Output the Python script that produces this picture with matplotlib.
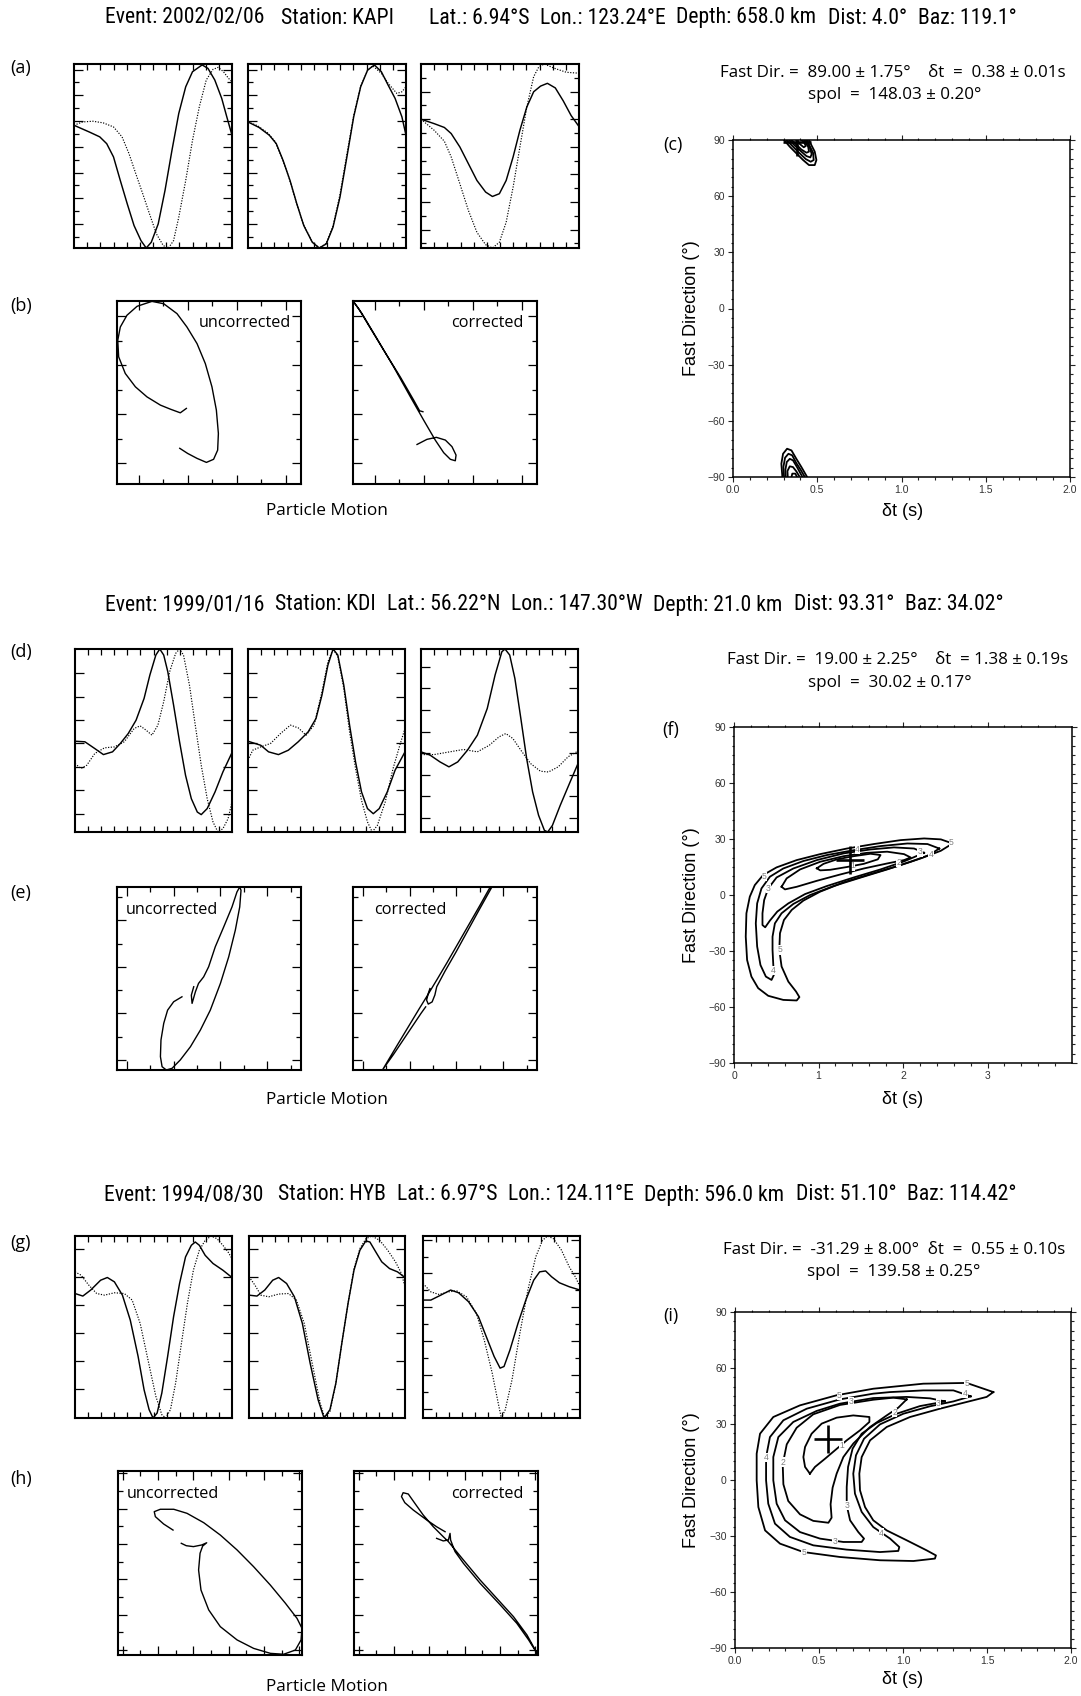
import numpy as np
import matplotlib
matplotlib.use("Agg")
import matplotlib.pyplot as plt
from matplotlib import font_manager as fm
from matplotlib.ticker import MultipleLocator, FixedLocator, FormatStrFormatter

# ---------------- DATA (normalised box coordinates) ----------------
TITLE1 = ["Event: 2002/02/06", "Station: KAPI", "Lat.: 6.94°S", "Lon.: 123.24°E",
          "Depth: 658.0 km", "Dist: 4.0°", "Baz: 119.1°"]
TITLE2 = ["Event: 1999/01/16", "Station: KDI", "Lat.: 56.22°N", "Lon.: 147.30°W",
          "Depth: 21.0 km", "Dist: 93.31°", "Baz: 34.02°"]
TITLE3 = ["Event: 1994/08/30", "Station: HYB", "Lat.: 6.97°S", "Lon.: 124.11°E",
          "Depth: 596.0 km", "Dist: 51.10°", "Baz: 114.42°"]

RESULT1 = ["Fast Dir. =  89.00 ± 1.75°    δt  =  0.38 ± 0.01s", "spol  =  148.03 ± 0.20°"]
RESULT2 = ["Fast Dir. =  19.00 ± 2.25°    δt  = 1.38 ± 0.19s", "spol  =  30.02 ± 0.17°"]
RESULT3 = ["Fast Dir. =  -31.29 ± 8.00°  δt  =  0.55 ± 0.10s", "spol  =  139.58 ± 0.25°"]

PANEL_LABELS = ["(a)", "(b)", "(c)", "(d)", "(e)", "(f)", "(g)", "(h)", "(i)"]

# best-fit (delta t, fast direction) crosses
BEST_C = (0.38, 89.0)
BEST_F = (1.373, 19.0)
BEST_I = (0.552, 22.0)

# waveforms: (time fraction, amplitude fraction)
A1_SOLID = [(0,0.667),(0.098,0.63),(0.163,0.604),(0.207,0.567),(0.25,0.495),(0.293,0.367),(0.337,0.24),
            (0.38,0.122),(0.424,0.04),(0.457,0.0),(0.489,0.031),(0.533,0.131),(0.576,0.313),(0.62,0.531),
            (0.663,0.731),(0.707,0.876),(0.75,0.958),(0.811,0.995),(0.848,0.976),(0.891,0.913),
            (0.935,0.813),(0.967,0.713),(1.0,0.613)]
A1_DOT = [(0,0.667),(0.054,0.685),(0.12,0.689),(0.185,0.68),(0.25,0.658),(0.304,0.604),(0.348,0.513),
          (0.391,0.404),(0.435,0.295),(0.478,0.185),(0.522,0.076),(0.565,0.013),(0.598,0.0),(0.63,0.04),
          (0.663,0.167),(0.707,0.367),(0.75,0.585),(0.793,0.767),(0.837,0.913),(0.88,0.971),(0.913,0.982),
          (0.946,0.958),(0.978,0.922),(1.0,0.904)]
A2_SOLID = [(0,0.685),(0.07,0.655),(0.135,0.613),(0.179,0.567),(0.222,0.476),(0.266,0.367),(0.309,0.24),
            (0.353,0.122),(0.407,0.031),(0.451,0.0),(0.495,0.022),(0.538,0.113),(0.582,0.276),(0.626,0.495),
            (0.669,0.713),(0.713,0.876),(0.757,0.967),(0.8,0.995),(0.844,0.958),(0.887,0.885),(0.931,0.813),
            (0.974,0.713),(1.0,0.613)]
A2_DOT = [(0,0.685),(0.06,0.665),(0.125,0.625),(0.17,0.58),(0.215,0.49),(0.26,0.38),(0.305,0.25),
          (0.35,0.13),(0.405,0.035),(0.451,0.0),(0.495,0.025),(0.538,0.12),(0.582,0.29),(0.626,0.51),
          (0.669,0.72),(0.713,0.88),(0.757,0.965),(0.79,0.99),(0.844,0.949),(0.887,0.895),(0.942,0.84),
          (0.974,0.849),(1.0,0.876)]
A3_SOLID = [(0,0.7),(0.083,0.676),(0.148,0.655),(0.191,0.622),(0.246,0.549),(0.3,0.458),(0.354,0.367),
            (0.409,0.304),(0.452,0.28),(0.496,0.295),(0.539,0.367),(0.583,0.495),(0.626,0.64),(0.67,0.767),
            (0.713,0.849),(0.757,0.88),(0.8,0.895),(0.85,0.87),(0.9,0.8),(0.95,0.72),(1.0,0.66)]
A3_DOT = [(0,0.7),(0.083,0.64),(0.148,0.58),(0.191,0.495),(0.246,0.349),(0.3,0.204),(0.354,0.085),
          (0.409,0.018),(0.452,0.0),(0.496,0.031),(0.539,0.14),(0.583,0.331),(0.626,0.549),(0.67,0.767),
          (0.713,0.931),(0.746,0.985),(0.78,1.0),(0.85,0.975),(0.92,0.955),(1.0,0.95)]

D1_SOLID = [(0,0.496),(0.063,0.493),(0.126,0.456),(0.181,0.423),(0.239,0.438),(0.289,0.484),(0.339,0.538),
            (0.389,0.611),(0.44,0.73),(0.477,0.858),(0.515,0.967),(0.54,1.0),(0.565,0.967),(0.591,0.876),
            (0.628,0.693),(0.666,0.493),(0.704,0.31),(0.741,0.182),(0.779,0.109),(0.804,0.095),
            (0.842,0.128),(0.892,0.219),(0.942,0.328),(1.0,0.434)]
D1_DOT = [(0,0.374),(0.038,0.347),(0.075,0.365),(0.126,0.429),(0.188,0.46),(0.251,0.465),(0.314,0.493),
          (0.377,0.566),(0.415,0.58),(0.452,0.557),(0.49,0.529),(0.528,0.584),(0.565,0.712),(0.603,0.876),
          (0.641,0.976),(0.666,1.0),(0.691,0.967),(0.729,0.803),(0.766,0.584),(0.804,0.365),(0.842,0.182),
          (0.879,0.055),(0.91,0.0),(0.942,0.018),(0.975,0.073),(1.0,0.164)]
D2_SOLID = [(0,0.496),(0.081,0.474),(0.131,0.438),(0.194,0.423),(0.257,0.447),(0.32,0.493),(0.383,0.547),
            (0.433,0.62),(0.471,0.748),(0.509,0.912),(0.542,1.0),(0.572,0.967),(0.61,0.803),(0.647,0.584),
            (0.685,0.383),(0.723,0.219),(0.761,0.128),(0.798,0.1),(0.836,0.128),(0.887,0.219),(0.937,0.338),
            (1.0,0.438)]
D2_DOT = [(0,0.392),(0.03,0.447),(0.081,0.465),(0.144,0.484),(0.207,0.538),(0.27,0.584),(0.32,0.569),
          (0.37,0.529),(0.421,0.584),(0.471,0.766),(0.509,0.93),(0.542,1.0),(0.572,0.958),(0.61,0.785),
          (0.647,0.547),(0.685,0.347),(0.723,0.173),(0.761,0.055),(0.791,0.0),(0.824,0.036),(0.874,0.164),
          (0.924,0.347),(0.967,0.474),(1.0,0.566)]
D3_SOLID = [(0,0.438),(0.058,0.42),(0.121,0.383),(0.178,0.356),(0.234,0.383),(0.296,0.447),(0.359,0.529),
            (0.422,0.675),(0.472,0.858),(0.515,0.985),(0.535,1.0),(0.565,0.967),(0.598,0.839),(0.636,0.62),
            (0.673,0.401),(0.711,0.219),(0.749,0.091),(0.786,0.009),(0.807,0.0),(0.837,0.036),(0.887,0.146),
            (0.95,0.274),(1.0,0.374)]
D3_DOT = [(0,0.423),(0.083,0.423),(0.183,0.438),(0.271,0.451),(0.359,0.438),(0.435,0.474),(0.497,0.52),
          (0.54,0.538),(0.585,0.511),(0.636,0.447),(0.698,0.374),(0.761,0.332),(0.812,0.328),(0.874,0.356),
          (0.937,0.411),(1.0,0.442)]

G1_SOLID = [(0,0.684),(0.05,0.67),(0.1,0.703),(0.163,0.757),(0.206,0.772),(0.251,0.748),(0.302,0.675),
            (0.352,0.538),(0.402,0.338),(0.44,0.155),(0.472,0.046),(0.497,0.0),(0.523,0.027),(0.553,0.137),
            (0.59,0.338),(0.628,0.557),(0.666,0.739),(0.704,0.885),(0.741,0.949),(0.766,0.967),(0.792,0.949),
            (0.829,0.894),(0.879,0.849),(0.942,0.812),(1.0,0.772)]
G1_DOT = [(0,0.803),(0.038,0.785),(0.088,0.73),(0.138,0.684),(0.188,0.675),(0.251,0.688),(0.314,0.684),
          (0.364,0.648),(0.415,0.52),(0.465,0.319),(0.515,0.119),(0.553,0.018),(0.578,0.0),(0.608,0.046),
          (0.641,0.192),(0.678,0.411),(0.716,0.63),(0.754,0.812),(0.792,0.922),(0.829,0.976),(0.867,1.0),
          (0.905,0.985),(0.942,0.949),(0.975,0.912),(1.0,0.876)]
G2_SOLID = [(0,0.675),(0.051,0.67),(0.101,0.703),(0.152,0.757),(0.19,0.772),(0.241,0.739),(0.291,0.666),
            (0.342,0.52),(0.392,0.301),(0.443,0.1),(0.481,0.0),(0.519,0.046),(0.557,0.192),(0.595,0.411),
            (0.635,0.63),(0.673,0.812),(0.711,0.922),(0.749,0.973),(0.775,0.967),(0.813,0.912),(0.851,0.858),
            (0.901,0.821),(0.952,0.803),(1.0,0.772)]
G2_DOT = [(0,0.776),(0.038,0.73),(0.076,0.675),(0.127,0.666),(0.19,0.681),(0.253,0.684),(0.304,0.648),
          (0.354,0.52),(0.405,0.301),(0.456,0.082),(0.486,0.0),(0.519,0.036),(0.557,0.192),(0.595,0.411),
          (0.635,0.63),(0.673,0.821),(0.711,0.931),(0.749,0.985),(0.787,1.0),(0.838,0.976),(0.889,0.922),
          (0.939,0.858),(0.977,0.794),(1.0,0.721)]
G3_SOLID = [(0,0.648),(0.05,0.648),(0.113,0.675),(0.176,0.703),(0.227,0.688),(0.29,0.639),(0.353,0.557),
            (0.403,0.447),(0.453,0.338),(0.491,0.274),(0.516,0.283),(0.554,0.374),(0.605,0.52),(0.655,0.648),
            (0.705,0.757),(0.743,0.803),(0.781,0.808),(0.819,0.776),(0.869,0.743),(0.932,0.721),(1.0,0.703)]
G3_DOT = [(0,0.739),(0.05,0.693),(0.101,0.679),(0.164,0.693),(0.214,0.699),(0.277,0.666),(0.34,0.575),
          (0.39,0.429),(0.441,0.246),(0.479,0.082),(0.499,0.0),(0.524,0.046),(0.567,0.21),(0.617,0.465),
          (0.668,0.703),(0.718,0.885),(0.761,0.976),(0.793,1.0),(0.831,0.985),(0.882,0.922),(0.932,0.83),
          (0.97,0.776),(1.0,0.721)]

# particle motion (fraction of box)
B_UNC = [(0.377,0.413),(0.344,0.389),(0.29,0.409),(0.236,0.431),(0.163,0.476),(0.1,0.531),(0.045,0.604),
         (0.009,0.695),(0.004,0.785),(0.018,0.858),(0.054,0.922),(0.109,0.971),(0.19,0.998),(0.254,0.985),
         (0.326,0.931),(0.38,0.858),(0.435,0.767),(0.48,0.658),(0.516,0.531),(0.54,0.404),(0.551,0.276),
         (0.547,0.185),(0.525,0.135),(0.486,0.118),(0.435,0.14),(0.384,0.167),(0.341,0.195)]
B_COR = [(0.38,0.395),(0.362,0.4),(0.33,0.458),(0.257,0.585),(0.167,0.731),(0.085,0.867),(0.031,0.958),
         (0.0,1.0),(0.049,0.931),(0.13,0.795),(0.221,0.64),(0.312,0.476),(0.384,0.349),(0.447,0.24),
         (0.493,0.171),(0.529,0.135),(0.556,0.127),(0.56,0.158),(0.538,0.204),(0.502,0.24),(0.453,0.255),
         (0.402,0.244),(0.348,0.216)]
E_UNC = [(0.353,0.4),(0.308,0.373),(0.275,0.327),(0.254,0.255),(0.239,0.164),(0.236,0.073),(0.245,0.018),
         (0.268,0.0),(0.299,0.009),(0.344,0.055),(0.399,0.127),(0.453,0.218),(0.507,0.327),(0.562,0.473),
         (0.607,0.618),(0.643,0.764),(0.667,0.891),(0.674,0.982),(0.667,1.0),(0.652,0.973),(0.625,0.891),
         (0.58,0.782),(0.534,0.673),(0.498,0.564),(0.471,0.509),(0.443,0.473),(0.426,0.427),(0.408,0.364),
         (0.404,0.409),(0.417,0.455)]
E_COR = [(0.418,0.445),(0.409,0.418),(0.4,0.382),(0.409,0.36),(0.43,0.372),(0.445,0.41),(0.455,0.455),
         (0.5,0.54),(0.56,0.645),(0.62,0.755),(0.68,0.865),(0.73,0.955),(0.755,1.0),(0.74,0.99),(0.69,0.9),
         (0.63,0.795),(0.57,0.69),(0.51,0.585),(0.46,0.5),(0.43,0.45),(0.4,0.4),(0.36,0.335),(0.3,0.235),
         (0.24,0.135),(0.16,0.0),(0.22,0.085),(0.28,0.175),(0.33,0.25),(0.37,0.31),(0.395,0.345)]
H_UNC = [(0.299,0.679),(0.248,0.712),(0.203,0.752),(0.197,0.779),(0.23,0.792),(0.303,0.792),(0.375,0.77),
         (0.466,0.719),(0.556,0.652),(0.647,0.571),(0.737,0.48),(0.828,0.38),(0.91,0.281),(0.973,0.199),
         (1.0,0.145),(0.995,0.082),(0.964,0.027),(0.9,0.004),(0.828,0.009),(0.737,0.036),(0.647,0.082),
         (0.556,0.154),(0.493,0.245),(0.451,0.353),(0.438,0.462),(0.446,0.553),(0.46,0.592),(0.482,0.61),
         (0.455,0.598),(0.41,0.589),(0.371,0.594),(0.344,0.607)]
H_COR = [(0.495,0.67),(0.449,0.697),(0.395,0.734),(0.322,0.788),(0.276,0.828),(0.258,0.861),(0.267,0.882),
         (0.295,0.875),(0.331,0.824),(0.376,0.761),(0.431,0.697),(0.485,0.643),(0.513,0.616),(0.595,0.516),
         (0.685,0.408),(0.776,0.308),(0.867,0.208),(0.94,0.109),(1.0,0.0),(0.949,0.082),(0.885,0.172),
         (0.795,0.272),(0.685,0.39),(0.595,0.498),(0.549,0.562),(0.525,0.625),(0.522,0.661),(0.513,0.625),
         (0.485,0.62),(0.449,0.634)]

# misfit contours: (delay time s, fast direction deg)
C_TOP = [
    [(0.303,90),(0.337,86.4),(0.376,82.9),(0.416,79.3),(0.451,76.6),(0.485,76.6),(0.495,79.3),(0.485,83.8),(0.465,87.3),(0.451,90)],
    [(0.317,90),(0.352,86.8),(0.392,83.2),(0.432,79.8),(0.461,78.4),(0.479,79.3),(0.475,83.2),(0.455,86.8),(0.44,90)],
    [(0.333,90),(0.366,87.1),(0.402,84.1),(0.436,81.4),(0.459,80.7),(0.467,82.5),(0.455,86.1),(0.432,90)],
    [(0.347,90),(0.376,87.5),(0.406,84.9),(0.436,83.2),(0.451,83.8),(0.446,86.4),(0.422,90)],
    [(0.376,89.6),(0.396,87.9),(0.42,86.1),(0.432,86.8),(0.42,89.1),(0.406,90)],
]
C_BOT = [
    [(0.293,-90),(0.287,-82.9),(0.297,-77.6),(0.321,-74.9),(0.347,-75.8),(0.376,-80.3),(0.406,-84.7),(0.44,-90)],
    [(0.303,-90),(0.299,-84.7),(0.309,-79.7),(0.329,-77.6),(0.351,-78.4),(0.376,-82.6),(0.402,-86.2),(0.426,-90)],
    [(0.313,-90),(0.311,-86.1),(0.319,-82.0),(0.337,-80.3),(0.356,-81.1),(0.38,-84.7),(0.412,-90)],
    [(0.325,-90),(0.323,-86.8),(0.337,-84.3),(0.356,-84.7),(0.376,-87.0),(0.396,-90)],
    [(0.347,-90),(0.352,-88.2),(0.37,-88.2),(0.38,-90)],
]
F_C5 = [(2.587,27.6),(2.448,29.8),(2.25,30.3),(1.972,29.4),(1.655,27.3),(1.337,24.9),(1.02,21.9),(0.742,18.7),
        (0.504,14.8),(0.345,10.7),(0.246,5.3),(0.187,-0.9),(0.147,-9.8),(0.139,-22.3),(0.155,-34.8),
        (0.206,-43.7),(0.286,-49.9),(0.405,-54.0),(0.583,-56.2),(0.742,-56.5),(0.774,-54.7),(0.734,-51.7),
        (0.643,-46.4),(0.563,-38.3),(0.536,-29.4),(0.544,-20.5),(0.591,-13.4),(0.683,-8.0),(0.821,-3.0),
        (1.02,1.8),(1.298,6.8),(1.615,11.2),(1.933,15.5),(2.21,19.6),(2.448,23.7),(2.587,27.6)]
F_C4 = [(2.429,24.9),(2.29,27.3),(2.052,27.6),(1.734,26.2),(1.417,24.0),(1.099,21.4),(0.821,18.2),(0.583,14.2),
        (0.425,9.8),(0.325,3.5),(0.274,-4.5),(0.258,-15.2),(0.274,-27.6),(0.313,-37.5),(0.377,-43.7),
        (0.444,-45.5),(0.472,-42.8),(0.464,-36.6),(0.456,-29.4),(0.456,-22.3),(0.484,-15.2),(0.563,-9.8),
        (0.702,-4.8),(0.901,0.0),(1.179,4.8),(1.496,9.3),(1.813,13.7),(2.091,17.8),(2.31,21.4),(2.429,24.9)]
F_C3 = [(2.25,22.6),(2.131,24.9),(1.893,25.5),(1.615,24.4),(1.298,22.3),(0.98,18.7),(0.702,14.2),(0.504,9.4),
        (0.405,3.5),(0.357,-2.7),(0.337,-9.8),(0.337,-16.1),(0.369,-17.3),(0.425,-13.7),(0.512,-8.9),
        (0.643,-4.5),(0.841,0.5),(1.099,4.8),(1.417,9.4),(1.734,13.7),(2.012,18.0),(2.25,22.6)]
F_C2 = [(0.563,4.4),(0.623,8.9),(0.782,13.7),(1.02,17.8),(1.298,20.8),(1.575,22.6),(1.813,23.2),(2.012,21.9),
        (2.091,20.1),(2.012,18.7),(1.813,16.9),(1.536,14.2),(1.258,11.0),(0.98,7.6),(0.742,4.4),(0.603,3.0),
        (0.563,4.4)]
F_C1 = [(0.98,14.3),(1.06,16.7),(1.218,19.1),(1.417,20.8),(1.615,22.1),(1.734,21.4),(1.702,19.1),(1.536,16.7),
        (1.337,15.0),(1.139,13.5),(1.02,13.2),(0.98,14.3)]
F_LABELS = [("5",0.36,10.0),("5",2.57,27.9),("5",0.54,-29.4),("4",1.46,24.4),("4",2.33,21.6),("4",0.47,-40.5),
            ("3",0.405,3.5),("3",2.2,23.1),("2",1.95,17.6),("1",1.40,15.6)]

I_C5 = [(1.538,47.1),(1.379,52.0),(1.121,51.6),(0.823,48.9),(0.605,45.4),(0.387,40.0),(0.228,33.75),(0.149,24.8),
        (0.129,14.1),(0.129,-0.2),(0.139,-14.5),(0.179,-27.0),(0.268,-34.1),(0.407,-38.6),(0.625,-41.25),
        (0.863,-43.0),(1.062,-43.4),(1.19,-42.1),(1.196,-40.4),(1.141,-37.7),(1.022,-32.3),(0.903,-27.0),
        (0.823,-21.6),(0.774,-14.5),(0.744,-5.5),(0.74,3.4),(0.754,12.3),(0.804,21.25),(0.903,28.4),
        (1.042,33.75),(1.22,38.2),(1.379,41.8),(1.498,44.5),(1.538,47.1)]
I_C4 = [(1.403,44.8),(1.3,48.0),(1.121,48.0),(0.923,47.1),(0.823,46.25),(0.625,43.2),(0.427,38.2),(0.288,32.0),
        (0.208,23.0),(0.185,12.3),(0.185,-0.2),(0.198,-12.7),(0.238,-23.4),(0.327,-30.5),(0.466,-35.0),
        (0.665,-37.3),(0.863,-38.6),(0.972,-38.0),(0.978,-35.9),(0.923,-31.4),(0.823,-25.2),(0.754,-17.1),
        (0.714,-7.3),(0.704,3.4),(0.72,13.2),(0.768,22.1),(0.863,29.8),(1.002,35.5),(1.161,39.5),(1.3,42.1),
        (1.403,44.8)]
I_C3 = [(1.25,42.1),(1.161,43.75),(1.022,44.5),(0.823,43.9),(0.625,40.9),(0.486,37.0),(0.347,31.1),(0.258,23.0),
        (0.228,12.3),(0.228,-0.2),(0.248,-12.7),(0.298,-21.6),(0.387,-27.9),(0.506,-31.4),(0.645,-33.2),
        (0.754,-33.2),(0.768,-31.4),(0.734,-27.9),(0.685,-21.6),(0.665,-13.6),(0.665,-3.75),(0.673,7.0),
        (0.7,16.8),(0.754,24.8),(0.843,30.5),(0.962,35.5),(1.101,39.6),(1.21,41.4),(1.25,42.1)]
I_C2 = [(1.022,43.2),(0.942,44.1),(0.823,43.0),(0.625,40.2),(0.466,35.2),(0.367,28.0),(0.308,19.1),(0.284,8.4),
        (0.288,-2.3),(0.317,-11.25),(0.387,-18.4),(0.466,-21.9),(0.556,-22.9),(0.575,-20.2),(0.569,-13.0),
        (0.581,-4.1),(0.605,3.4),(0.645,12.3),(0.704,19.5),(0.804,28.4),(0.903,34.6),(0.972,38.75),(1.022,43.2)]
I_C1 = [(0.446,3.4),(0.417,7.0),(0.407,12.3),(0.417,17.7),(0.456,24.8),(0.516,30.2),(0.605,33.4),(0.704,34.6),
        (0.8,33.75),(0.8,31.1),(0.744,26.6),(0.665,21.25),(0.595,15.9),(0.536,11.4),(0.476,7.0),(0.446,3.4)]
I_LABELS = [("5",0.62,45.2),("5",1.38,51.8),("5",0.41,-38.6),("4",0.185,12.0),("4",1.37,46.3),("4",0.873,-28.4),
            ("3",0.69,41.9),("3",1.21,41.2),("3",0.595,-33.0),("3",0.665,-13.6),("2",0.288,9.6),("2",0.95,36.2),
            ("1",0.635,18.6)]

# ---------------- FONTS ----------------
avail = {f.name for f in fm.fontManager.ttflist}
def pick(cands, default):
    for c in cands:
        if c in avail:
            return c
    return default
HUMAN = pick(["Open Sans", "Noto Sans", "Lato"], "DejaVu Sans")
COND = pick(["Liberation Sans Narrow", "Roboto Condensed", "Open Sans Condensed", "DejaVu Sans Condensed"], HUMAN)
HELV = pick(["Liberation Sans", "Arimo"], "DejaVu Sans")
plt.rcParams["font.family"] = [HUMAN, "DejaVu Sans"]

# ---------------- FIGURE ----------------
W, H = 1081, 1696
fig = plt.figure(figsize=(W / 100, H / 100), dpi=100)
fig.patch.set_facecolor("white")
renderer = fig.canvas.get_renderer()

def add_ax(l, t, r, b):
    return fig.add_axes([l / W, 1 - b / H, (r - l) / W, (b - t) / H])

def ftext(x, y, s, **kw):
    return fig.text(x / W, 1 - y / H, s, **kw)

def text_width(s, family, base=12.0):
    t = fig.text(0, 0, s, fontsize=base, family=family)
    w = t.get_window_extent(renderer=renderer).width
    t.remove()
    return w

def fit_size(s, width, family, base=12.0):
    return base * width / text_width(s, family, base)

def arr(pts):
    a = np.array(pts, dtype=float)
    return a[:, 0], a[:, 1]

def wave_box(ax, solid, dotted, yt):
    u, v = arr(dotted)
    ax.plot(u, v, color="k", lw=0.85, ls=(0, (1.0, 1.3)))
    u, v = arr(solid)
    ax.plot(u, v, color="k", lw=1.05)
    ax.set_xlim(0, 1)
    ax.set_ylim(0, 1)
    ax.set_xticks(np.arange(1, 12) / 12)
    step, off, minor = yt
    ax.set_yticks(np.arange(off, 0.995, step))
    if minor:
        mt = np.arange(off - step / 2, 0.995, step)
        ax.set_yticks(mt[mt > 0.01], minor=True)
    ax.tick_params(axis="x", which="major", direction="in", length=4.5, width=0.9, top=True, bottom=True)
    ax.tick_params(axis="y", which="major", direction="in", length=6.5, width=0.9, left=True, right=True)
    ax.tick_params(axis="y", which="minor", direction="in", length=3.5, width=0.9, left=True, right=True)
    ax.tick_params(labelbottom=False, labelleft=False)
    for s in ax.spines.values():
        s.set_linewidth(1.5)

def pm_box(ax, pts, xt, yt):
    u, v = arr(pts)
    ax.plot(u, v, color="k", lw=1.0)
    ax.set_xlim(0, 1)
    ax.set_ylim(0, 1)
    xs = np.arange(xt[0], 0.995, xt[1])
    ys = np.arange(yt[0], 0.995, yt[1])
    ax.set_xticks(xs[::2]); ax.set_xticks(xs[1::2], minor=True)
    ax.set_yticks(ys[::2]); ax.set_yticks(ys[1::2], minor=True)
    ax.tick_params(which="both", direction="in", top=True, right=True, width=0.9,
                   labelbottom=False, labelleft=False)
    ax.tick_params(which="major", length=6.5)
    ax.tick_params(which="minor", length=3.8)
    for s in ax.spines.values():
        s.set_linewidth(1.5)

def contour_box(ax, lines, xmax, xmajor, xminor, fmt, best, labels=None):
    for ln in lines:
        x, y = arr(ln)
        ax.plot(x, y, color="k", lw=1.3, solid_joinstyle="round")
    if labels:
        for s, x, y in labels:
            ax.text(x, y, s, fontsize=6.2, color="#808080", ha="center", va="center", family=HELV,
                    bbox=dict(facecolor="white", edgecolor="none", pad=0.2), zorder=4)
    ax.plot([best[0]], [best[1]], marker="+", ms=20, mew=1.9, color="k", zorder=5)
    ax.set_xlim(0, xmax)
    ax.set_ylim(-90, 90)
    ax.xaxis.set_major_locator(FixedLocator(xmajor))
    ax.xaxis.set_minor_locator(FixedLocator(xminor))
    ax.xaxis.set_major_formatter(FormatStrFormatter(fmt))
    ax.yaxis.set_major_locator(MultipleLocator(30))
    ax.yaxis.set_minor_locator(MultipleLocator(5))
    ax.tick_params(which="both", direction="out", top=True, right=True, width=0.8, color="#222222",
                   labelcolor="#333333", labelsize=7.5, labelfontfamily=HELV)
    ax.tick_params(which="major", length=3.5, pad=2.5)
    ax.tick_params(which="minor", length=1.8)
    for s in ax.spines.values():
        s.set_linewidth(1.1)

# ---------------- TITLES ----------------
TFAM = [COND, "DejaVu Sans"]
TITLE_ROWS = [
    (TITLE1, [105, 281, 430, 520, 669, 843, 933], 1016, 18),
    (TITLE2, [105, 281, 423, 533, 673, 806, 922], 1003, 605),
    (TITLE3, [104, 279, 391, 512, 633, 818, 924], 1016, 1195),
]
GAP = 11
sizes = []
for fields, xs, xend, _ in TITLE_ROWS:
    total = sum(text_width(s, TFAM) for s in fields)  # at 12 pt
    avail_w = (xend - xs[0]) - GAP * (len(fields) - 1)
    sizes.append(12.0 * avail_w / total)
title_fs = min(min(sizes), fit_size(TITLE1[0], 162, TFAM))
for fields, xs, xend, y in TITLE_ROWS:
    widths = [text_width(s, TFAM) * title_fs / 12.0 for s in fields]
    # keep the reference anchor positions while avoiding any overlap
    pos = [xs[0]]
    for i in range(1, len(fields)):
        pos.append(max(xs[i], pos[-1] + widths[i - 1] + GAP))
    over = pos[-1] + widths[-1] - xend
    if over > 0:
        # push back from the right end so the row ends where the reference ends
        pos[-1] -= over
        for i in range(len(fields) - 2, 0, -1):
            pos[i] = min(pos[i], pos[i + 1] - widths[i] - GAP)
    for s, x in zip(fields, pos):
        ftext(x, y, s, ha="left", va="center", fontsize=title_fs, family=TFAM)

# ---------------- PANELS ----------------
res_fs = fit_size(RESULT1[0], 347, [HUMAN, "DejaVu Sans"])
unc_fs = fit_size("uncorrected", 92, [HUMAN, "DejaVu Sans"])
pm_fs = fit_size("Particle Motion", 121, [HUMAN, "DejaVu Sans"])

WAVES = [
    ([A1_SOLID, A2_SOLID, A3_SOLID], [A1_DOT, A2_DOT, A3_DOT]),
    ([D1_SOLID, D2_SOLID, D3_SOLID], [D1_DOT, D2_DOT, D3_DOT]),
    ([G1_SOLID, G2_SOLID, G3_SOLID], [G1_DOT, G2_DOT, G3_DOT]),
]
WAVE_XS = [[(74, 232), (248, 406), (421, 579)],
           [(75, 232), (248, 405), (421, 578)],
           [(75, 232), (249, 405), (423, 580)]]
WAVE_Y = [(64, 248), (649, 832), (1236, 1418)]
WAVE_YT = [[(0.14, 0.13, True), (0.14, 0.13, True), (0.15, 0.10, True)],
           [(0.128, 0.10, False), (0.128, 0.10, False), (0.118, 0.077, False)],
           [(0.153, 0.162, False), (0.153, 0.162, False), (0.186, 0.05, True)]]
for p in range(3):
    for k in range(3):
        l, r = WAVE_XS[p][k]
        ax = add_ax(l, WAVE_Y[p][0], r, WAVE_Y[p][1])
        wave_box(ax, WAVES[p][0][k], WAVES[p][1][k], WAVE_YT[p][k])

PMS = [(B_UNC, B_COR), (E_UNC, E_COR), (H_UNC, H_COR)]
PM_Y = [(301, 484), (887, 1070), (1471, 1655)]
PM_XS = [[(117, 301), (353, 537)], [(117, 301), (353, 537)], [(118, 302), (354, 538)]]
PM_TICKS = [((0.118, 0.133), (0.113, 0.134)), ((0.054, 0.127), (0.055, 0.127)), ((0.025, 0.096), (0.027, 0.096))]
for p in range(3):
    for k in range(2):
        l, r = PM_XS[p][k]
        ax = add_ax(l, PM_Y[p][0], r, PM_Y[p][1])
        pm_box(ax, PMS[p][k], PM_TICKS[p][0], PM_TICKS[p][1])

ufam = [HUMAN, "DejaVu Sans"]
ftext(291, 323, "uncorrected", ha="right", va="center", fontsize=unc_fs, family=ufam)
ftext(524, 323, "corrected", ha="right", va="center", fontsize=unc_fs, family=ufam)
ftext(126, 910, "uncorrected", ha="left", va="center", fontsize=unc_fs, family=ufam)
ftext(374, 910, "corrected", ha="left", va="center", fontsize=unc_fs, family=ufam)
ftext(127, 1494, "uncorrected", ha="left", va="center", fontsize=unc_fs, family=ufam)
ftext(524, 1494, "corrected", ha="right", va="center", fontsize=unc_fs, family=ufam)
for y in (511, 1100, 1687):
    ftext(327, y, "Particle Motion", ha="center", va="center", fontsize=pm_fs, family=ufam)

axc = add_ax(733, 140, 1070, 477)
contour_box(axc, C_TOP + C_BOT, 2.0, [0, 0.5, 1.0, 1.5, 2.0], np.arange(0, 2.001, 0.1), "%.1f", BEST_C)
axf = add_ax(734, 727, 1072, 1063)
contour_box(axf, [F_C5, F_C4, F_C3, F_C2, F_C1], 4.0, [0, 1, 2, 3], np.arange(0, 3.99, 0.2), "%d", BEST_F, F_LABELS)
axi = add_ax(735, 1312, 1071, 1648)
contour_box(axi, [I_C5, I_C4, I_C3, I_C2, I_C1], 2.0, [0, 0.5, 1.0, 1.5, 2.0], np.arange(0, 2.001, 0.1), "%.1f", BEST_I, I_LABELS)

for (yc, ylab) in [((140 + 477) / 2, 511), ((727 + 1063) / 2, 1100), ((1312 + 1648) / 2, 1680)]:
    ftext(691, yc, "Fast Direction (°)", rotation=90, ha="center", va="center", fontsize=13,
          family=[HELV, "DejaVu Sans"])
    ftext(903, ylab, "δt (s)", ha="center", va="center", fontsize=13, family=[HELV, "DejaVu Sans"])

for res, (x1, y1), (x2, y2) in [(RESULT1, (893, 73), (895, 95)),
                                (RESULT2, (898, 660), (890, 683)),
                                (RESULT3, (894, 1250), (894, 1272))]:
    ftext(x1, y1, res[0], ha="center", va="center", fontsize=res_fs, family=ufam)
    ftext(x2, y2, res[1], ha="center", va="center", fontsize=res_fs, family=ufam)

LABEL_POS = [(10, 68), (10, 306), (663, 145), (10, 652), (10, 893), (662, 730), (10, 1243), (10, 1479), (663, 1316)]
for s, (x, y) in zip(PANEL_LABELS, LABEL_POS):
    ftext(x, y, s, ha="left", va="center", fontsize=13, family=ufam)

fig.savefig("out.png", dpi=100, facecolor="white")
